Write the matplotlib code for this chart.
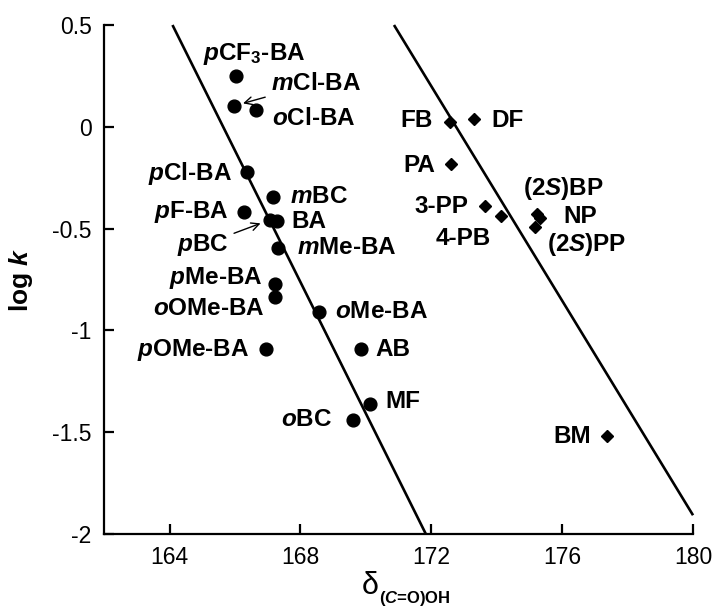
import matplotlib
matplotlib.use("Agg")
import matplotlib.pyplot as plt

plt.rcParams['font.family'] = ['Liberation Sans', 'DejaVu Sans']
plt.rcParams['mathtext.fontset'] = 'custom'
plt.rcParams['mathtext.rm'] = 'Liberation Sans'
plt.rcParams['mathtext.it'] = 'Liberation Sans:italic:bold'
plt.rcParams['mathtext.bf'] = 'Liberation Sans:bold'

# ---------------- data ----------------
ba_names = [r'$\mathit{p}$CF$_\mathbf{3}$-BA', r'$\mathit{m}$Cl-BA', r'$\mathit{o}$Cl-BA',
            r'$\mathit{p}$Cl-BA', r'$\mathit{m}$BC', r'$\mathit{p}$F-BA', 'BA',
            r'$\mathit{p}$BC', r'$\mathit{m}$Me-BA', r'$\mathit{p}$Me-BA',
            r'$\mathit{o}$OMe-BA', r'$\mathit{o}$Me-BA', r'$\mathit{p}$OMe-BA',
            'AB', 'MF', r'$\mathit{o}$BC']
ba_x = [166.02, 165.96, 166.63, 166.37, 167.15, 166.29, 167.29, 167.06, 167.32,
        167.21, 167.21, 168.58, 166.95, 169.86, 170.12, 169.60]
ba_y = [0.249, 0.102, 0.082, -0.221, -0.344, -0.417, -0.461, -0.458, -0.597,
        -0.772, -0.838, -0.911, -1.091, -1.091, -1.361, -1.440]

al_names = ['FB', 'DF', 'PA', '3-PP', '4-PB', r'(2$\mathit{S}$)BP', 'NP',
            r'(2$\mathit{S}$)PP', 'BM']
al_x = [172.56, 173.32, 172.60, 173.65, 174.13, 175.24, 175.33, 175.18, 177.36]
al_y = [0.025, 0.036, -0.185, -0.389, -0.437, -0.429, -0.448, -0.492, -1.522]

line1_x = [164.09, 171.83]
line1_y = [0.5, -2.0]
line2_x = [170.86, 180.0]
line2_y = [0.5, -1.909]

x_ticks = [164, 168, 172, 176, 180]
x_ticklabels = ['164', '168', '172', '176', '180']
y_ticks = [0.5, 0, -0.5, -1, -1.5, -2]
y_ticklabels = ['0.5', '0', '-0.5', '-1', '-1.5', '-2']

x_label_main = 'δ'
x_label_sub = r'($\mathit{C}$=O)OH'
y_label = r'log $\mathit{k}$'

# ------------- label placement (offset pixels, ha, arrow) -------------
ba_lab = [((19, 22), 'center', False), ((37, 23), 'left', True), ((16, -8), 'left', False),
          ((-15, -2), 'right', False), ((17, 0), 'left', False), ((-16, 0), 'right', False),
          ((14, -1), 'left', False), ((-41, -25), 'right', True), ((19, 1), 'left', False),
          ((-12, 6), 'right', False), ((-10, -11), 'right', False), ((16, 1), 'left', False),
          ((-17, -1), 'right', False), ((14, -1), 'left', False), ((16, 2), 'left', False),
          ((-21, 0), 'right', False)]
al_lab = [((-17, 1), 'right'), ((17, -1), 'left'), ((-16, -1), 'right'), ((-17, -1), 'right'),
          ((-38, -23), 'center'), ((-14, 26), 'left'), ((23, 1), 'left'), ((12, -18), 'left'),
          ((-16, 0), 'right')]

fig = plt.figure(figsize=(7.13, 6.10), dpi=100)
ax = fig.add_axes([0.146, 0.125, 0.826, 0.834])

ax.plot(line1_x, line1_y, color='black', lw=1.9, solid_capstyle='butt', clip_on=False)
ax.plot(line2_x, line2_y, color='black', lw=1.9, solid_capstyle='butt', clip_on=False)
ax.plot(ba_x, ba_y, 'o', color='black', ms=9.2, clip_on=False)
ax.plot(al_x, al_y, 'D', color='black', ms=6.6, clip_on=False)

fs = 17.5
for name, x, y, ((dx, dy), ha, arrow) in zip(ba_names, ba_x, ba_y, ba_lab):
    if arrow:
        ax.annotate(name, xy=(x, y), xytext=(dx, dy), textcoords='offset pixels',
                    ha=ha, va='center', fontsize=fs, fontweight='bold',
                    arrowprops=dict(arrowstyle='->', color='black', lw=1.0,
                                    shrinkA=2, shrinkB=7, mutation_scale=14))
    else:
        ax.annotate(name, xy=(x, y), xytext=(dx, dy), textcoords='offset pixels',
                    ha=ha, va='center', fontsize=fs, fontweight='bold')
for name, x, y, ((dx, dy), ha) in zip(al_names, al_x, al_y, al_lab):
    ax.annotate(name, xy=(x, y), xytext=(dx, dy), textcoords='offset pixels',
                ha=ha, va='center', fontsize=fs, fontweight='bold')

ax.set_xlim(162, 180)
ax.set_ylim(-2, 0.5)
ax.set_xticks(x_ticks)
ax.set_xticklabels(x_ticklabels)
ax.set_yticks(y_ticks)
ax.set_yticklabels(y_ticklabels)
for s in ['top', 'right']:
    ax.spines[s].set_visible(False)
for s in ['left', 'bottom']:
    ax.spines[s].set_linewidth(1.6)
ax.tick_params(direction='in', length=7.5, width=1.6, labelsize=16.5, pad=9)

# x label: delta with bold subscript
fig.text(0.531, 0.026, x_label_main, fontsize=22, ha='right', va='baseline')
fig.text(0.532, 0.011, x_label_sub, fontsize=12, fontweight='bold',
         ha='left', va='baseline')
ax.set_ylabel(y_label, fontsize=19, fontweight='bold', labelpad=12)

fig.savefig('out.png', dpi=100)
